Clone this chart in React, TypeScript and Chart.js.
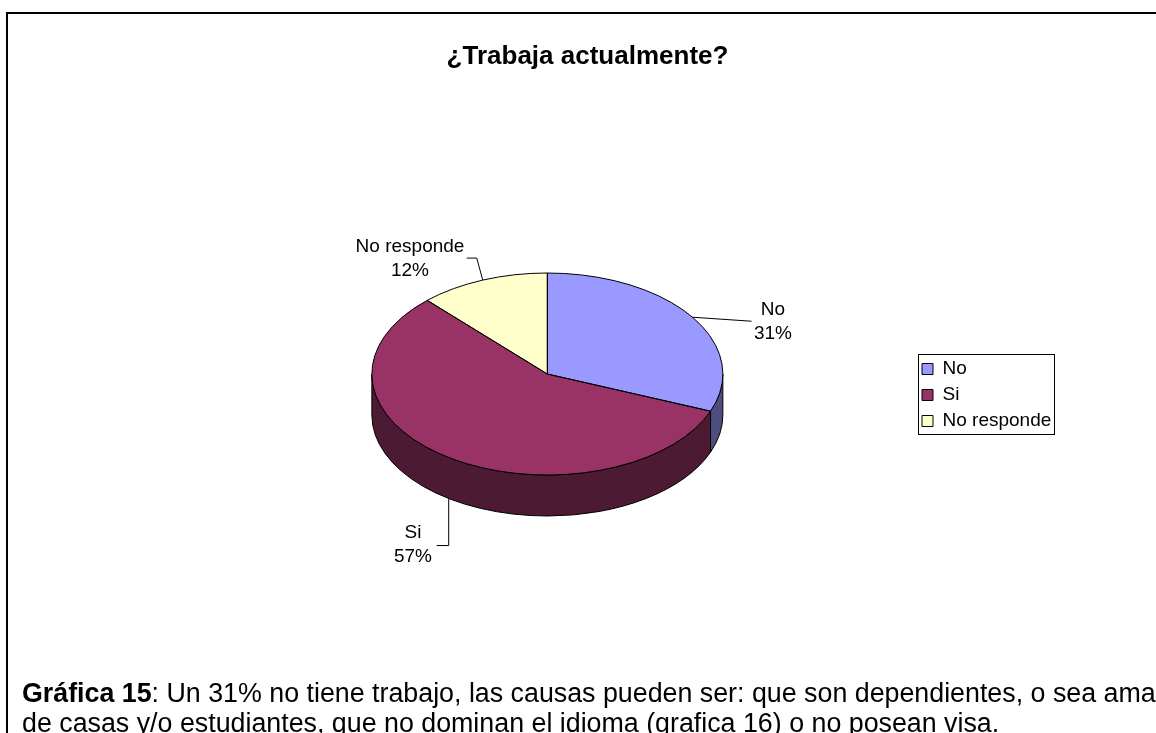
import React, { useEffect, useRef } from "react";
import { Chart, registerables } from "chart.js";

Chart.register(...registerables);

const titleText = "¿Trabaja actualmente?";
const categories = ["No", "Si", "No responde"];
const values = [31, 57, 12];
const topColors = ["#9999FF", "#993366", "#FFFFCC"];
const sideColors = ["#4D4D80", "#4D1A33", "#808066"];
const captionBold = "Gráfica 15";
const captionRest = ": Un 31% no tiene trabajo, las causas pueden ser: que son dependientes, o sea ama";
const captionLine2 = "de casas y/o estudiantes, que no dominan el idioma (grafica 16) o no posean visa.";

const FONT = '"Liberation Sans", Arial, sans-serif';
const SQUASH = 101 / 175.5;
const DEPTH = 41;
const TITLE_CENTER = 587.5;
const LEGEND_BOX = { left: 918, top: 354, width: 136, height: 80 };

// Label anchors: leader-line bends relative to the slice edge point, text centre.
const labelLayout = [
  { bends: [[59, 4]], text: [773, 322], onSide: false },
  { bends: [[0, 47], [-12, 47]], text: [413, 545], onSide: true },
  { bends: [[-6, -22], [-16, -22]], text: [410, 259], onSide: false },
];

const pie3d = {
  id: "pie3d",
  afterLayout(chart: any) {
    const lg = chart.legend;
    lg.left = LEGEND_BOX.left - 3;
    lg.right = lg.left + lg.width;
    lg.top = LEGEND_BOX.top - 1.5;
    lg.bottom = lg.top + 200;
    const tb = chart.titleBlock;
    tb.left = 0;
    tb.right = TITLE_CENTER * 2;
  },
  beforeDatasetDraw(chart: any) {
    const ctx = chart.ctx;
    const arcs = chart.getDatasetMeta(0).data;
    const { x: cx, y: cy, outerRadius: r } = arcs[0];
    const ry = r * SQUASH;
    // Side wall: only the front half (canvas angles 0..PI) is visible.
    arcs.forEach((a: any, i: number) => {
      const s = Math.max(a.startAngle, 0);
      const e = Math.min(a.endAngle, Math.PI);
      if (e <= s) return;
      ctx.beginPath();
      ctx.ellipse(cx, cy, r, ry, 0, s, e);
      ctx.ellipse(cx, cy + DEPTH, r, ry, 0, e, s, true);
      ctx.closePath();
      ctx.fillStyle = sideColors[i];
      ctx.fill();
      ctx.strokeStyle = "#000";
      ctx.lineWidth = 1;
      ctx.stroke();
    });
    ctx.save();
    ctx.translate(cx, cy);
    ctx.scale(1, SQUASH);
    ctx.translate(-cx, -cy);
  },
  afterDatasetDraw(chart: any) {
    const ctx = chart.ctx;
    ctx.restore();
    const arcs = chart.getDatasetMeta(0).data;
    arcs.forEach((a: any) => {
      const ry = a.outerRadius * SQUASH;
      ctx.beginPath();
      ctx.moveTo(a.x, a.y);
      ctx.ellipse(a.x, a.y, a.outerRadius, ry, 0, a.startAngle, a.endAngle);
      ctx.closePath();
      ctx.strokeStyle = "#000";
      ctx.lineWidth = 1;
      ctx.stroke();
    });
    ctx.save();
    ctx.font = `19px ${FONT}`;
    ctx.fillStyle = "#000";
    ctx.textAlign = "center";
    ctx.textBaseline = "middle";
    const total = values.reduce((p, c) => p + c, 0);
    arcs.forEach((a: any, i: number) => {
      const mid = (a.startAngle + a.endAngle) / 2;
      const ry = a.outerRadius * SQUASH;
      const lay = labelLayout[i];
      const sx = a.x + a.outerRadius * Math.cos(mid);
      const sy = a.y + ry * Math.sin(mid) + (lay.onSide ? DEPTH : 0);
      ctx.beginPath();
      ctx.moveTo(sx, sy);
      lay.bends.forEach(([dx, dy]) => ctx.lineTo(sx + dx, sy + dy));
      ctx.strokeStyle = "#000";
      ctx.lineWidth = 1;
      ctx.stroke();
      const [tx, ty] = lay.text;
      ctx.fillText(categories[i], tx, ty - 12);
      ctx.fillText(`${Math.round((values[i] / total) * 100)}%`, tx, ty + 12);
    });
    ctx.restore();
  },
  afterDraw(chart: any) {
    const ctx = chart.ctx;
    ctx.save();
    ctx.strokeStyle = "#000";
    ctx.lineWidth = 1;
    ctx.strokeRect(LEGEND_BOX.left + 0.5, LEGEND_BOX.top + 0.5, LEGEND_BOX.width, LEGEND_BOX.height);
    ctx.restore();
  },
};

export default function App() {
  const ref = useRef<HTMLCanvasElement>(null);
  useEffect(() => {
    const chart = new Chart(ref.current as HTMLCanvasElement, {
      type: "pie",
      data: {
        labels: categories,
        datasets: [{ data: values, backgroundColor: topColors, borderWidth: 0, clip: false } as any],
      },
      plugins: [pie3d],
      options: {
        animation: false,
        responsive: false,
        events: [],
        layout: { padding: { left: 187, right: 102, top: 40, bottom: 183.5 } },
        plugins: {
          tooltip: { enabled: false },
          title: {
            display: true,
            text: titleText,
            color: "#000",
            font: { family: FONT, size: 26, weight: "bold" },
            padding: { top: 1, bottom: 126.3 },
          },
          legend: {
            position: "right",
            align: "start",
            labels: {
              color: "#000",
              boxWidth: 11,
              boxHeight: 11,
              padding: 7,
              font: { family: FONT, size: 19 },
              generateLabels: () =>
                categories.map((t, i) => ({
                  text: t,
                  fillStyle: topColors[i],
                  strokeStyle: "#000",
                  lineWidth: 1,
                  index: i,
                  hidden: false,
                })),
            },
          },
        },
      },
    } as any);
    return () => chart.destroy();
  }, []);
  const textStyle: React.CSSProperties = {
    position: "absolute",
    left: 22,
    whiteSpace: "nowrap",
    font: `26.8px/30px ${FONT}`,
    color: "#000",
  };
  return (
    <div style={{ position: "fixed", left: 0, top: 0, width: 1156, height: 733, overflow: "hidden", background: "#fff" }}>
      <canvas ref={ref} width={1156} height={733} style={{ position: "absolute", left: 0, top: 0 }} />
      <div style={{ position: "absolute", left: 6, top: 12, right: 0, height: 2, background: "#000" }} />
      <div style={{ position: "absolute", left: 6, top: 12, width: 2, bottom: 0, background: "#000" }} />
      <div style={{ ...textStyle, top: 678 }}>
        <b>{captionBold}</b>
        {captionRest}
      </div>
      <div style={{ ...textStyle, top: 708 }}>{captionLine2}</div>
    </div>
  );
}
